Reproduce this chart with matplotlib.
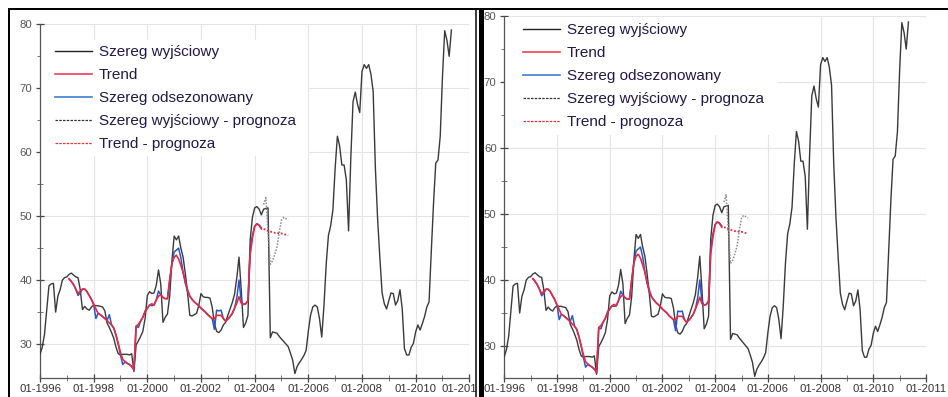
import matplotlib
matplotlib.use("Agg")
import matplotlib.pyplot as plt
from matplotlib.lines import Line2D
from matplotlib.patches import Rectangle
from matplotlib.transforms import ScaledTranslation

plt.rcParams['font.family'] = ['Liberation Sans', 'DejaVu Sans']

# ---------------- data (monthly, first value = 01-1996) ----------------
start_year = 1996
original = [
    28.4, 29.5, 31.5, 35.3, 39.1, 39.4, 39.5, 35.0, 37.5, 38.5, 40.0, 40.4,   # 1996
    40.5, 40.9, 41.1, 40.8, 40.5, 40.4, 38.5, 35.4, 35.9, 35.5, 35.3, 35.8,   # 1997
    36.1, 36.0, 36.0, 35.9, 35.8, 35.2, 33.3, 32.6, 31.8, 30.9, 29.5, 28.5,   # 1998
    28.3, 28.4, 28.4, 28.4, 28.3, 28.5, 25.7, 29.9, 30.5, 31.2, 32.0, 34.0,   # 1999
    37.6, 38.2, 37.9, 38.0, 39.2, 41.6, 39.4, 33.4, 34.2, 34.7, 37.5, 43.0,   # 2000
    46.9, 46.3, 46.9, 45.0, 43.6, 41.0, 38.0, 34.5, 34.4, 34.6, 34.8, 36.0,   # 2001
    37.9, 37.4, 37.3, 37.3, 37.2, 35.8, 33.2, 32.0, 31.8, 32.2, 33.0, 33.4,   # 2002
    34.5, 35.5, 36.5, 37.8, 40.3, 43.6, 38.5, 32.6, 33.3, 34.5, 46.3, 49.8,   # 2003
    51.3, 51.5, 51.1, 50.2, 51.1, 51.2, 51.3, 31.0, 31.9, 31.8, 31.7, 31.2,   # 2004
    30.8, 30.4, 30.0, 29.6, 28.6, 27.5, 25.4, 26.5, 27.1, 27.6, 28.2, 29.0,   # 2005
    32.0, 34.5, 35.8, 36.1, 35.8, 34.0, 31.1, 36.0, 42.5, 47.0, 48.5, 51.0,   # 2006
    57.5, 62.5, 61.0, 58.0, 58.0, 55.7, 47.7, 59.0, 67.9, 69.4, 67.5, 66.2,   # 2007
    72.6, 73.7, 73.1, 73.7, 72.2, 69.5, 57.5, 49.5, 43.5, 38.0, 36.3, 35.5,   # 2008
    36.8, 38.0, 37.9, 36.1, 36.8, 38.5, 35.5, 29.3, 28.3, 28.3, 29.5, 30.1,   # 2009
    31.9, 33.0, 32.2, 33.2, 34.3, 35.8, 36.6, 44.5, 52.0, 58.3, 58.8, 62.5,   # 2010
    71.8, 79.0, 77.5, 75.0, 79.1,                                             # 2011
]

trend_start = 13  # month index of the first trend value
trend = [
    40.2, 39.8, 39.3, 38.6, 37.9, 38.3, 38.6, 38.6, 38.2, 37.6, 37.0,
    36.2, 35.5, 34.8, 34.6, 34.3, 34.0, 33.7, 33.3, 33.0, 32.5, 31.4, 30.0,
    28.7, 27.6, 27.3, 27.0, 26.8, 26.5, 26.0, 32.8, 33.1, 33.6, 34.2, 35.0,
    35.6, 36.1, 36.3, 36.1, 36.9, 37.5, 37.7, 37.3, 37.1, 37.1, 40.0, 42.6,
    43.6, 43.9, 43.3, 42.3, 41.2, 39.8, 38.5, 37.5, 37.0, 36.6, 36.3, 36.0,
    35.6, 35.3, 35.0, 34.6, 34.3, 34.0, 34.0, 34.5, 34.5, 34.5, 34.0, 33.6,
    33.9, 34.3, 34.8, 35.6, 36.4, 37.4, 36.4, 36.2, 36.3, 36.8, 44.0, 46.5,
    48.4, 48.8, 48.6, 48.0,
]
deseasonalized = [
    40.2, 39.8, 39.3, 38.6, 37.6, 38.0, 38.6, 38.6, 38.2, 37.6, 37.0,
    36.2, 34.0, 34.8, 34.6, 34.3, 34.0, 33.7, 34.6, 33.0, 32.5, 31.4, 30.0,
    28.3, 26.8, 27.2, 27.0, 26.8, 26.5, 26.0, 32.8, 32.6, 33.6, 34.2, 35.2,
    35.6, 36.1, 36.0, 36.1, 36.9, 38.3, 37.7, 37.3, 37.1, 37.1, 40.0, 42.6,
    44.4, 44.7, 45.0, 43.5, 41.2, 39.5, 38.2, 37.5, 37.0, 36.6, 36.3, 36.0,
    35.6, 35.3, 35.0, 34.6, 34.3, 34.0, 32.3, 35.3, 35.2, 35.3, 34.0, 33.6,
    33.9, 34.3, 34.8, 35.6, 37.2, 40.0, 36.7, 36.2, 36.3, 36.8, 45.0, 47.0,
    48.4, 48.8, 48.6, 48.2,
]

forecast_start = 100
forecast_original = [51.8, 52.9, 47.5, 42.5, 43.0, 44.0, 45.2, 47.5, 49.4, 49.8, 49.6, 49.4]
forecast_trend = [48.0, 47.9, 47.7, 47.6, 47.5, 47.4, 47.4, 47.3, 47.3, 47.2, 47.1, 47.0]

tick_years = [1996, 1998, 2000, 2002, 2004, 2006, 2008, 2010, 2012]
tick_labels = ['01-1996', '01-1998', '01-2000', '01-2002', '01-2004',
               '01-2006', '01-2008', '01-2010', '01-2011']
# left panel: last label is cut by the panel border in the original
tick_labels_left = tick_labels[:-1] + ['01-201']
y_ticks = [30, 40, 50, 60, 70, 80]
legend_labels = ['Szereg wyjściowy', 'Trend', 'Szereg odsezonowany',
                 'Szereg wyjściowy - prognoza', 'Trend - prognoza']


def xs(first, n):
    return [start_year + (first + i) / 12.0 for i in range(n)]


# ---------------- figure ----------------
W, H = 948, 397
fig = plt.figure(figsize=(W / 100, H / 100), dpi=100)
fig.patch.set_facecolor('white')

C_BLACK = '#3a3a3a'
C_RED = '#e8283f'
C_BLUE = '#2a55d0'
C_GRAY = '#8a8a8a'
TXT = '#221848'

panels = [
    dict(x0=40, x1=469.3, ytop=24.3, ybot=378, ylo=24.7,
         box=(40, 40, 308, 156), leg=(55, 45), labels=tick_labels_left),
    dict(x0=504.3, x1=926, ytop=16, ybot=378, ylo=25.15,
         box=(504.3, 17, 778, 135), leg=(523, 23), labels=tick_labels),
]

for k, p in enumerate(panels):
    ax = fig.add_axes([p['x0'] / W, 1 - p['ybot'] / H,
                       (p['x1'] - p['x0']) / W, (p['ybot'] - p['ytop']) / H])
    ax.set_facecolor('white')
    ax.set_xlim(1996, 2012)
    ax.set_ylim(p['ylo'], 80)

    ax.plot(xs(0, len(original)), original, color=C_BLACK, lw=1.0, zorder=3)
    ax.plot(xs(trend_start, len(deseasonalized)), deseasonalized,
            color=C_BLUE, lw=1.1, zorder=3)
    ax.plot(xs(trend_start, len(trend)), trend, color=C_RED, lw=1.2, zorder=4)
    ax.plot(xs(forecast_start, len(forecast_original)), forecast_original,
            color=C_GRAY, lw=1.1, ls=(0, (1, 1)), zorder=3)
    ax.plot(xs(forecast_start, len(forecast_trend)), forecast_trend,
            color=C_RED, lw=1.3, ls=(0, (1, 1)), zorder=4)

    ax.set_xticks(tick_years)
    ax.set_xticklabels(p['labels'])
    ax.set_xticks(list(range(1997, 2012, 2)), minor=True)
    ax.set_yticks(y_ticks)
    ax.set_yticks([35, 45, 55, 65, 75], minor=True)
    ax.grid(True, which='major', color='#e4e4e4', lw=0.8)
    ax.set_axisbelow(True)
    for s in ['top', 'right']:
        ax.spines[s].set_visible(False)
    for s in ['left', 'bottom']:
        ax.spines[s].set_color('#555555')
        ax.spines[s].set_linewidth(0.9)
    ax.tick_params(axis='x', which='major', direction='inout', length=6,
                   width=0.9, color='#444444', labelsize=8.2, labelcolor='#333333', pad=1.5)
    ax.tick_params(axis='y', which='major', direction='inout', length=6,
                   width=0.9, color='#444444', labelsize=8.2, labelcolor='#555555', pad=2.5)
    ax.tick_params(which='minor', direction='inout', length=4, width=0.7, color='#777777')

    # white legend background
    bx0, by0, bx1, by1 = p['box']
    ax.add_patch(Rectangle((bx0 / W, 1 - by1 / H), (bx1 - bx0) / W, (by1 - by0) / H,
                           transform=fig.transFigure, facecolor='white',
                           edgecolor='none', zorder=2))

    handles = [
        Line2D([], [], color='#222222', lw=1.0),
        Line2D([], [], color='#f0405a', lw=1.2),
        Line2D([], [], color='#3a7fd0', lw=1.2),
        Line2D([], [], color='#333333', lw=0.9, ls=(0, (2, 1))),
        Line2D([], [], color='#f03040', lw=0.9, ls=(0, (2, 1))),
    ]
    lx, ly = p['leg']
    leg = ax.legend(handles, legend_labels, loc='upper left',
                    bbox_to_anchor=(lx / W, 1 - ly / H), bbox_transform=fig.transFigure,
                    frameon=False, borderpad=0, borderaxespad=0, fontsize=11,
                    handlelength=2.45, handletextpad=0.4, labelspacing=0.59,
                    labelcolor=TXT)
    leg.set_zorder(5)

    if k == 0:
        last = ax.get_xticklabels()[-1]
        last.set_horizontalalignment('right')
        last.set_transform(last.get_transform() +
                           ScaledTranslation(8.0 / 100, 0, fig.dpi_scale_trans))


def fline(x0, y0, x1, y1, lw):
    fig.add_artist(Line2D([x0 / W, x1 / W], [1 - y0 / H, 1 - y1 / H],
                          transform=fig.transFigure, color='black', lw=lw,
                          solid_capstyle='butt'))


px = 0.72  # points per pixel
fline(8, 8.5, 948, 8.5, 2 * px)
fline(8.5, 8, 8.5, 397, 2 * px)
fline(475.5, 8, 475.5, 397, 1.5 * px)
fline(481, 8, 481, 397, 5 * px)

fig.savefig('out.png', dpi=100, facecolor='white')
